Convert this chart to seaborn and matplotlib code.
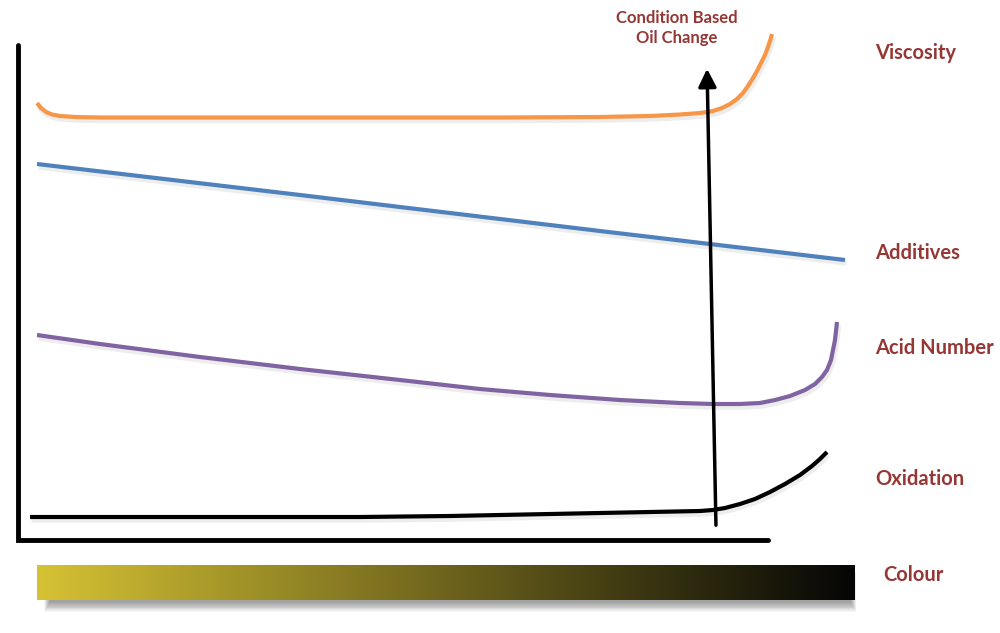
import numpy as np
import pandas as pd
import matplotlib
matplotlib.use("Agg")
import matplotlib.pyplot as plt
import seaborn as sns

# curve points (pixel coords, y grows downward)
visc_x = [37, 41, 46, 52, 60, 75, 100, 300, 500, 600, 650, 680, 700, 713, 722, 730,
          737, 743, 748, 753, 757, 761, 765, 768, 770, 772]
visc_y = [103, 108, 112, 114.5, 116, 117, 117.5, 117.5, 117.5, 117, 116, 114.5, 113, 111, 108, 104,
          99, 93, 86, 78, 71, 63, 55, 47, 41, 34]

add_x = [37, 300, 600, 845]
add_y = [164, 195, 231, 260]

acid_x = [37, 100, 200, 300, 400, 480, 550, 620, 680, 713, 740, 760, 775, 790, 805,
          815, 822, 827, 831, 833, 835, 836, 837]
acid_y = [335, 344, 357, 369, 380, 389, 395, 400, 403, 404, 404, 403, 400, 396, 390,
          384, 377, 370, 360, 350, 340, 331, 322]

oxid_x = [30, 200, 360, 450, 550, 650, 700, 713, 725, 740, 755, 770, 785, 800, 812, 820, 827]
oxid_y = [517, 517, 517, 516, 514, 512, 511, 510, 508, 504, 499, 492, 484, 475, 466, 459, 452]

series = ["Viscosity", "Additives", "Acid Number", "Oxidation"]
colors = ["#F79646", "#4F81BD", "#8064A2", "#000000"]
label_y = [53, 253, 348, 479]

frames = []
for name, xs, ys in zip(series, [visc_x, add_x, acid_x, oxid_x], [visc_y, add_y, acid_y, oxid_y]):
    frames.append(pd.DataFrame({"x": xs, "y": ys, "series": name}))
df = pd.concat(frames, ignore_index=True)

sns.set_theme(style="white")
plt.rcParams['font.family'] = ['Lato', 'DejaVu Sans']

fig = plt.figure(figsize=(10, 6.33), dpi=100)
ax = fig.add_axes([0, 0, 1, 1])
ax.set_xlim(0, 1000)
ax.set_ylim(633, 0)
ax.axis("off")

# faint shadows under the curves
for name, c in zip(series, colors):
    d = df[df["series"] == name]
    ax.plot(d["x"] + 1.5, d["y"] + 3, color="#000000", alpha=0.07, lw=4,
            solid_capstyle="butt", solid_joinstyle="round")

sns.lineplot(data=df, x="x", y="y", hue="series", palette=colors, hue_order=series,
             estimator=None, sort=False, lw=3, legend=False, ax=ax,
             solid_joinstyle="round", solid_capstyle="butt")

# axes frame
ax.plot([18, 18, 768], [45, 540, 540], color="black", lw=3.5, solid_joinstyle="miter")

# condition based oil change arrow
ax.annotate("", xy=(707, 66), xytext=(716, 528),
            arrowprops=dict(arrowstyle="-|>,head_length=0.9,head_width=0.45", color="black", lw=2.5))
text_col = "#953735"
ax.text(677, 28, "Condition Based\nOil Change", ha="center", va="center", fontsize=12,
        fontweight="bold", color=text_col, linespacing=1.35)

for name, yy in zip(series, label_y):
    ax.text(875, yy, name, ha="left", va="center", fontsize=14.5, fontweight="bold", color=text_col)

# colour bar with a soft shadow
for i in range(12):
    ax.add_patch(plt.Rectangle((44 + i * 0.5, 572 + i * 0.9), 812 - i, 40 - i * 1.8,
                               color="black", alpha=0.035, lw=0))
grad = np.linspace(0, 1, 400)
cols = np.outer(1 - grad, [214, 194, 52]) + np.outer(grad, [5, 5, 5])
ax.imshow(cols[None, :, :] / 255.0, extent=(37, 855, 600, 565), aspect="auto", zorder=3)
ax.text(883, 575, "Colour", ha="left", va="center", fontsize=14.5, fontweight="bold", color=text_col)

ax.set_xlim(0, 1000)
ax.set_ylim(633, 0)
fig.savefig("out.png", dpi=100)
